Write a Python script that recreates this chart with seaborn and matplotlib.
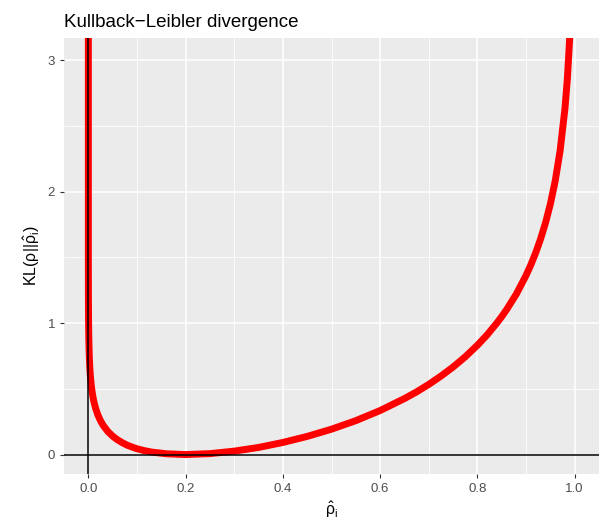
import matplotlib
matplotlib.use("Agg")
import matplotlib.pyplot as plt
import seaborn as sns
import pandas as pd

# points (rho = 0.2); ends run off the top of the panel
rho_hat = [0.0, 0.00005, 0.0002, 0.0005, 0.001, 0.002, 0.003, 0.004, 0.006, 0.008,
           0.01, 0.012, 0.015, 0.02, 0.025, 0.03, 0.04, 0.05, 0.06, 0.07,
           0.08, 0.09, 0.1, 0.115, 0.13, 0.16, 0.2, 0.25, 0.3, 0.35,
           0.4, 0.45, 0.5, 0.55, 0.6, 0.65, 0.675, 0.7, 0.725, 0.75,
           0.775, 0.8, 0.82, 0.84, 0.85, 0.86, 0.88, 0.9, 0.91, 0.92,
           0.93, 0.94, 0.95, 0.96, 0.97, 0.98, 0.985, 0.99, 0.995, 1.0]
kl_vals = [20.0, 1.480, 1.203, 1.020, 0.882, 0.744, 0.664, 0.607, 0.528, 0.472,
           0.429, 0.394, 0.352, 0.298, 0.258, 0.225, 0.176, 0.140, 0.112, 0.090,
           0.071, 0.057, 0.044, 0.030, 0.019, 0.006, 0.0, 0.007, 0.026, 0.054,
           0.092, 0.138, 0.193, 0.258, 0.335, 0.426, 0.477, 0.534, 0.597, 0.666,
           0.744, 0.832, 0.911, 1.001, 1.050, 1.103, 1.221, 1.363, 1.445, 1.537,
           1.642, 1.763, 1.907, 2.083, 2.311, 2.633, 2.862, 3.186, 3.739, 20.0]

x_ticks = [0.0, 0.2, 0.4, 0.6, 0.8, 1.0]
x_minor = [0.1, 0.3, 0.5, 0.7, 0.9]
y_ticks = [0, 1, 2, 3]
y_minor = [0.5, 1.5, 2.5]

df = pd.DataFrame({"rho_hat": rho_hat, "kl": kl_vals})

sns.set_theme(style="darkgrid", rc={
    "axes.facecolor": "#EBEBEB",
    "grid.color": "white",
    "xtick.bottom": True,
    "ytick.left": True,
    "xtick.major.size": 3,
    "ytick.major.size": 3,
    "xtick.major.width": 0.8,
    "ytick.major.width": 0.8,
    "xtick.color": "#333333",
    "ytick.color": "#333333",
    "xtick.labelcolor": "#4D4D4D",
    "ytick.labelcolor": "#4D4D4D",
})
plt.rcParams["font.family"] = ["Liberation Sans", "DejaVu Sans"]
plt.rcParams["mathtext.default"] = "regular"

fig = plt.figure(figsize=(6.07, 5.25), dpi=100)
ax = fig.add_axes([64 / 607, 51 / 525, 535 / 607, 436 / 525])

sns.lineplot(data=df, x="rho_hat", y="kl", color="#FF0000", linewidth=5,
             ax=ax, sort=False)
ax.axhline(0, color="black", linewidth=1.1, zorder=5)
ax.axvline(0, color="black", linewidth=1.1, zorder=5)

ax.set_xlim(-0.05, 1.05)
ax.set_ylim(-0.148, 3.17)
ax.set_xticks(x_ticks)
ax.set_xticklabels([f"{t:.1f}" for t in x_ticks], fontsize=9.5)
ax.set_yticks(y_ticks)
ax.set_yticklabels([str(t) for t in y_ticks], fontsize=9.5)
ax.set_xticks(x_minor, minor=True)
ax.set_yticks(y_minor, minor=True)
ax.tick_params(which="minor", length=0)
ax.grid(which="major", color="white", linewidth=1.1)
ax.grid(which="minor", color="white", linewidth=0.55)
for s in ax.spines.values():
    s.set_visible(False)

ax.set_xlabel(r"$\hat{\rho}_i$", fontsize=11.5, color="black", labelpad=3)
ax.set_ylabel(r"KL($\rho$||$\hat{\rho}_i$)", fontsize=11.5, color="black", labelpad=4)
ax.set_title("Kullback\u2212Leibler divergence", loc="left", fontsize=13.5,
             color="black", pad=8)

fig.savefig("out.png", dpi=100)
